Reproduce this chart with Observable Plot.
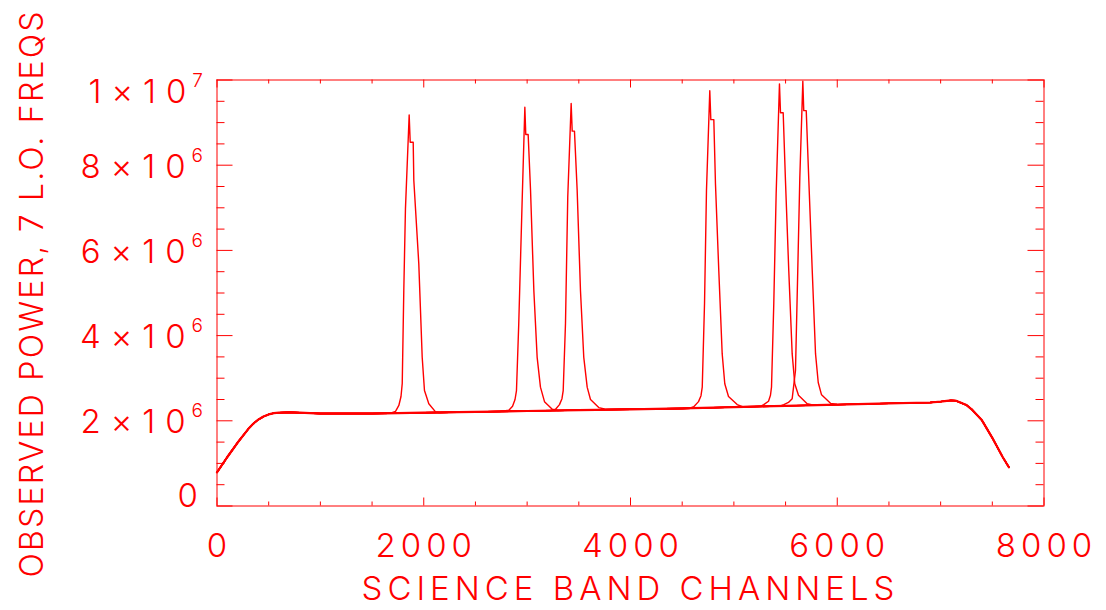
<!DOCTYPE html>
<html><head><meta charset="utf-8">
<script src="https://cdn.jsdelivr.net/npm/d3@7"></script>
<script src="https://cdn.jsdelivr.net/npm/@observablehq/plot@0.6"></script>
<style>html,body{margin:0;padding:0;background:#fff;} #chart svg{display:block}</style>
</head><body><div id="chart"></div>
<script>
// ---- data (power in units of 10^6) ----
const baselineChannel = [0,100,200,300,350,400,450,500,550,600,700,800,1000,1500,2000,2500,3000,3500,4000,4500,5000,5500,6000,6500,6900,7000,7100,7150,7250,7300,7400,7500,7600,7660];
const baselinePower   = [0.79,1.15,1.49,1.80,1.93,2.03,2.10,2.15,2.18,2.19,2.20,2.19,2.17,2.17,2.19,2.21,2.23,2.25,2.27,2.29,2.32,2.35,2.38,2.41,2.43,2.45,2.48,2.47,2.37,2.27,2.01,1.60,1.15,0.91];

const peak1 = [[1678,2.18],[1727,2.22],[1759,2.36],[1780,2.57],[1792,2.88],[1807,5.06],[1823,6.98],[1859,9.18],[1869,8.54],[1898,8.54],[1904,7.64],[1952,5.69],[1985,3.49],[2007,2.71],[2049,2.40],[2114,2.21],[2150,2.19]];
const peak2 = [[2742,2.22],[2823,2.25],[2859,2.34],[2883,2.50],[2897,2.71],[2919,4.28],[2952,7.17],[2978,9.36],[2987,8.72],[3010,8.72],[3033,7.41],[3065,5.06],[3097,3.49],[3129,2.79],[3168,2.45],[3243,2.27],[3300,2.24]];
const peak3 = [[3226,2.24],[3275,2.27],[3313,2.38],[3337,2.52],[3349,2.71],[3371,4.28],[3393,7.25],[3426,9.45],[3436,8.80],[3458,8.80],[3484,7.41],[3516,5.06],[3548,3.49],[3581,2.79],[3613,2.50],[3693,2.31],[3758,2.27]];
const peak4 = [[4580,2.30],[4612,2.33],[4658,2.45],[4682,2.59],[4694,2.79],[4716,4.75],[4735,7.41],[4767,9.75],[4777,9.07],[4806,9.07],[4822,7.56],[4854,5.53],[4887,3.57],[4912,2.87],[4948,2.57],[5032,2.38],[5083,2.33]];
const peak5 = [[5258,2.34],[5289,2.38],[5335,2.46],[5354,2.60],[5364,2.79],[5386,4.75],[5409,7.33],[5441,9.91],[5451,9.23],[5477,9.23],[5499,7.64],[5531,5.53],[5564,3.57],[5589,2.87],[5625,2.60],[5709,2.40],[5761,2.37]];
const peak6 = [[5451,2.35],[5483,2.38],[5528,2.43],[5564,2.52],[5596,3.18],[5618,5.53],[5638,7.72],[5667,9.97],[5676,9.28],[5700,9.28],[5725,7.64],[5758,5.53],[5790,3.57],[5816,2.90],[5848,2.61],[5935,2.41],[5993,2.39]];

const xTickValues = [0,2000,4000,6000,8000];
const xMinorTicks = [500,1000,1500,2500,3000,3500,4500,5000,5500,6500,7000,7500];
const yTickValues = [0,2e6,4e6,6e6,8e6,1e7];
const yTickMantissa = ["0","2","4","6","8","1"];
const yTickExponent = ["","6","6","6","6","7"];
const yMinorTicks = [5e5,1e6,1.5e6,2.5e6,3e6,3.5e6,4.5e6,5e6,5.5e6,6.5e6,7e6,7.5e6,8.5e6,9e6,9.5e6];
const xTitle = "SCIENCE BAND CHANNELS";
const yTitle = "OBSERVED POWER, 7 L.O. FREQS";

// ---- build series ----
const base = baselineChannel.map((c, i) => [c, baselinePower[i]]);
const peaks = [peak1, peak2, peak3, peak4, peak5, peak6];
const rows = [];
peaks.forEach((pk, k) => {
  const x0 = pk[0][0], x1 = pk[pk.length - 1][0];
  const pts = [...base.filter(d => d[0] < x0), ...pk, ...base.filter(d => d[0] > x1)];
  pts.forEach(([c, p]) => rows.push({channel: c, power: p * 1e6, series: "LO" + (k + 1)}));
});
const baseRows = base.map(([c, p]) => ({channel: c, power: p * 1e6, series: "LO7"}));

const W = 827, H = 426; // plot area size in px
const RED = "#ff0000";
const FONT = "Inter, 'DejaVu Sans', sans-serif";
const txt = {fill: RED, fontSize: 33, fontWeight: 300};

const svg = Plot.plot({
  width: 1106, height: 610,
  marginLeft: 216.5, marginRight: 62.5, marginTop: 79.5, marginBottom: 104.5,
  x: {domain: [0, 8000], axis: null},
  y: {domain: [0, 1e7], axis: null},
  style: {background: "#fff", fontFamily: FONT, letterSpacing: "5px"},
  marks: [
    Plot.frame({stroke: RED, strokeWidth: 1}),
    // bottom & top x ticks
    Plot.ruleX(xTickValues, {x: d => d, stroke: RED, insetTop: H - 8}),
    Plot.ruleX(xTickValues, {x: d => d, stroke: RED, insetBottom: H - 8}),
    Plot.ruleX(xMinorTicks, {x: d => d, stroke: RED, insetTop: H - 4}),
    Plot.ruleX(xMinorTicks, {x: d => d, stroke: RED, insetBottom: H - 4}),
    // left & right y ticks
    Plot.ruleY(yTickValues, {y: d => d, stroke: RED, insetRight: W - 16}),
    Plot.ruleY(yTickValues, {y: d => d, stroke: RED, insetLeft: W - 16}),
    Plot.ruleY(yMinorTicks, {y: d => d, stroke: RED, insetRight: W - 8}),
    Plot.ruleY(yMinorTicks, {y: d => d, stroke: RED, insetLeft: W - 8}),
    // data
    Plot.line(baseRows, {x: "channel", y: "power", stroke: RED, strokeWidth: 2.2}),
    Plot.line(rows, {x: "channel", y: "power", z: "series", stroke: RED, strokeWidth: 1.4}),
    // x tick labels
    Plot.text(xTickValues, {x: d => d, text: d => String(d), frameAnchor: "bottom", lineAnchor: "bottom", dy: 50.5, dx: 2.5, ...txt}),
    // y tick labels
    Plot.text(yTickValues.slice(1, 5), {y: d => d, text: (d, i) => yTickMantissa[i + 1] + "×10", frameAnchor: "left", textAnchor: "end", lineAnchor: "middle", dx: -4, dy: 2, ...txt}),
    Plot.text([yTickValues[0]], {y: d => d, text: () => yTickMantissa[0], frameAnchor: "left", textAnchor: "end", lineAnchor: "middle", dx: -14, dy: -9.5, ...txt}),
    Plot.text([yTickValues[5]], {y: d => d, text: () => yTickMantissa[5] + "×10", frameAnchor: "left", textAnchor: "end", lineAnchor: "middle", dx: -4, dy: 12, ...txt}),
    // axis titles
    Plot.text([xTitle], {text: d => d, frameAnchor: "bottom", lineAnchor: "bottom", textAnchor: "middle", dy: 93.5, dx: 0, ...txt}),
    Plot.text([yTitle], {text: d => d, frameAnchor: "left", lineAnchor: "bottom", textAnchor: "middle", rotate: -90, dx: -174, dy: 1.5, ...txt, fontSize: 32})
  ]
});

// superscript exponents on y tick labels; fit y title length
d3.select(svg).selectAll("text").each(function() {
  const s = this.textContent;
  const j = yTickMantissa.findIndex(m => s === m + "×10");
  if (j >= 0 && yTickExponent[j]) {
    d3.select(this).style("letter-spacing", "10px");
    d3.select(this).append("tspan").attr("dy", -16).attr("dx", -4).attr("font-size", 19).text(yTickExponent[j]);
  }
  if (s === yTitle) {
    d3.select(this).style("letter-spacing", "0px").attr("textLength", 566).attr("lengthAdjust", "spacing");
  }
});

document.getElementById("chart").append(svg);
</script>
</body></html>
